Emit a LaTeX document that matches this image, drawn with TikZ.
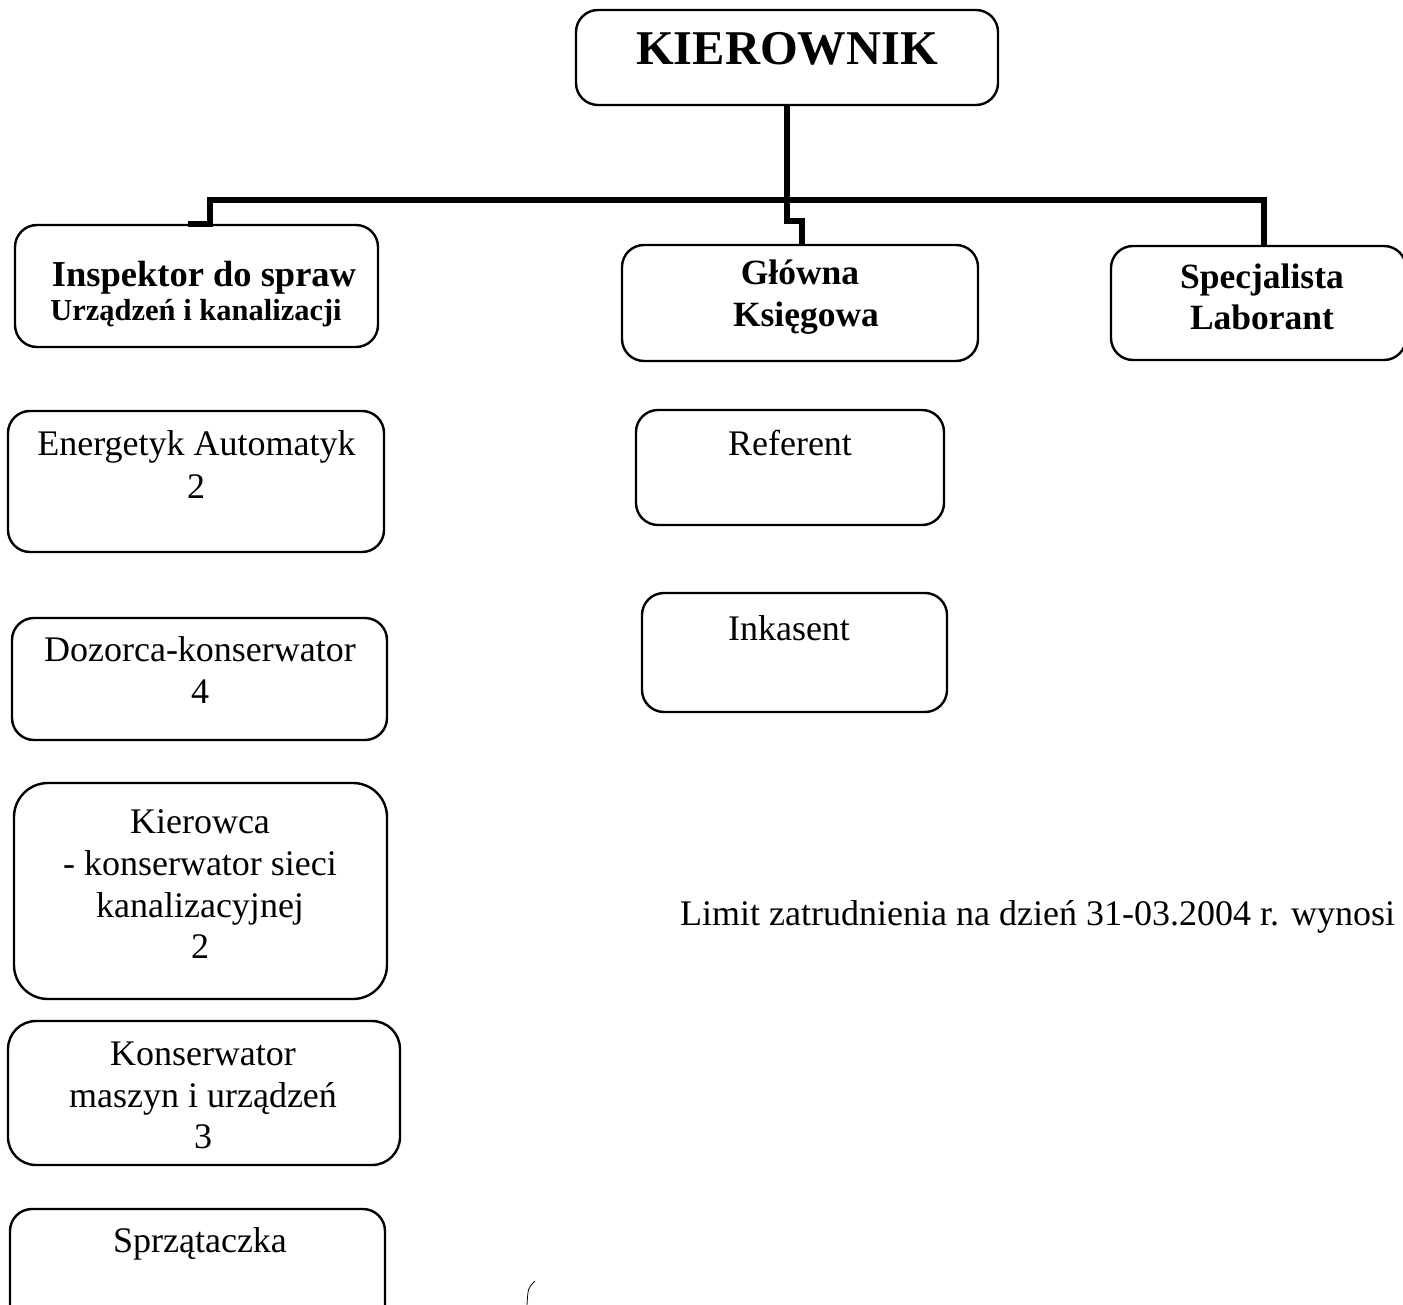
\documentclass[tikz,border=0pt]{standalone}
\usepackage{fontspec}
\setmainfont{Liberation Serif}
\begin{document}
\begin{tikzpicture}[x=1pt,y=-1pt,
  box/.style={draw, line width=2.4pt, rounded corners=22pt, inner sep=0pt},
  conn/.style={line width=5.5pt, line join=miter},
  reg/.style={font=\fontsize{36}{42}\selectfont, anchor=base, inner sep=0pt},
  bld/.style={font=\fontsize{35.5}{42}\selectfont\bfseries, anchor=base, inner sep=0pt},
]
\useasboundingbox[fill=white] (0,0) rectangle (1403,1305);

% boxes
\node[box, minimum width=422pt, minimum height=95pt] (kier) at (787,57.5) {};
\node[box, minimum width=363pt, minimum height=122pt] (insp) at (196.5,286) {};
\node[box, minimum width=356pt, minimum height=116pt] (glow) at (800,303) {};
\node[box, minimum width=295pt, minimum height=114pt] (spec) at (1258.5,303) {};
\node[box, minimum width=376pt, minimum height=141pt] (ener) at (196,481.5) {};
\node[box, minimum width=308pt, minimum height=115pt] (ref) at (790,467.5) {};
\node[box, minimum width=375pt, minimum height=122pt] (doz) at (199.5,679) {};
\node[box, minimum width=305pt, minimum height=119pt] (ink) at (794.5,652.5) {};
\node[box, rounded corners=34pt, minimum width=373pt, minimum height=216pt] (kiero) at (200.5,891) {};
\node[box, rounded corners=28pt, minimum width=392pt, minimum height=144pt] (kons) at (204,1093) {};
\node[box, minimum width=375pt, minimum height=121pt] (sprz) at (197.5,1269.5) {};

% connectors
\coordinate (busL) at (210,200);
\coordinate (busR) at (1264,200);
\coordinate (busM) at (787,200);
\draw[conn] ([xshift=-22pt]busL |- insp.north) -- (busL |- insp.north) -- (busL) -- (busR) -- (busR |- spec.north);
\draw[conn] (kier.south) -- (busM) -- ++(0,21) -| ([xshift=2pt]glow.north);

% texts
\node[bld, font=\fontsize{48.5}{50}\selectfont\bfseries] (tkier) at (787,65) {KIEROWNIK};
\node[bld, font=\fontsize{36.5}{42}\selectfont\bfseries] (tinsp1) at (204,287) {Inspektor do spraw};
\node[bld, font=\fontsize{30.5}{36}\selectfont\bfseries] (tinsp2) at (196,321) {Urządzeń i kanalizacji};
\node[bld] (tglow1) at (800,285) {Główna};
\node[bld] (tglow2) at (806,327) {Księgowa};
\node[bld] (tspec1) at (1262,289) {Specjalista};
\node[bld] (tspec2) at (1262,330) {Laborant};
\node[reg] (tener1) at (196.5,455) {Energetyk Automatyk};
\node[reg] (tener2) at (196,498) {2};
\node[reg] (tref) at (790,455) {Referent};
\node[reg] (tdoz1) at (200,661) {Dozorca-konserwator};
\node[reg] (tdoz2) at (200,703) {4};
\node[reg] (tink) at (789,640) {Inkasent};
\node[reg] (tkiero1) at (200,833) {Kierowca};
\node[reg] (tkiero2) at (200,875) {- konserwator sieci};
\node[reg] (tkiero3) at (200,917) {kanalizacyjnej};
\node[reg] (tkiero4) at (200,958) {2};
\node[reg] (tkons1) at (203,1065) {Konserwator};
\node[reg] (tkons2) at (203,1107) {maszyn i urządzeń};
\node[reg] (tkons3) at (203,1148) {3};
\node[reg] (tsprz) at (200,1252) {Sprzątaczka};
\node[reg, anchor=base west] (tlimit) at (680,925) {Limit zatrudnienia na dzień 31-03.2004 r. wynosi};

% scan mark
\draw[line width=0.8pt] (535,1281) .. controls (528,1288) .. (527,1305);
\end{tikzpicture}
\end{document}
